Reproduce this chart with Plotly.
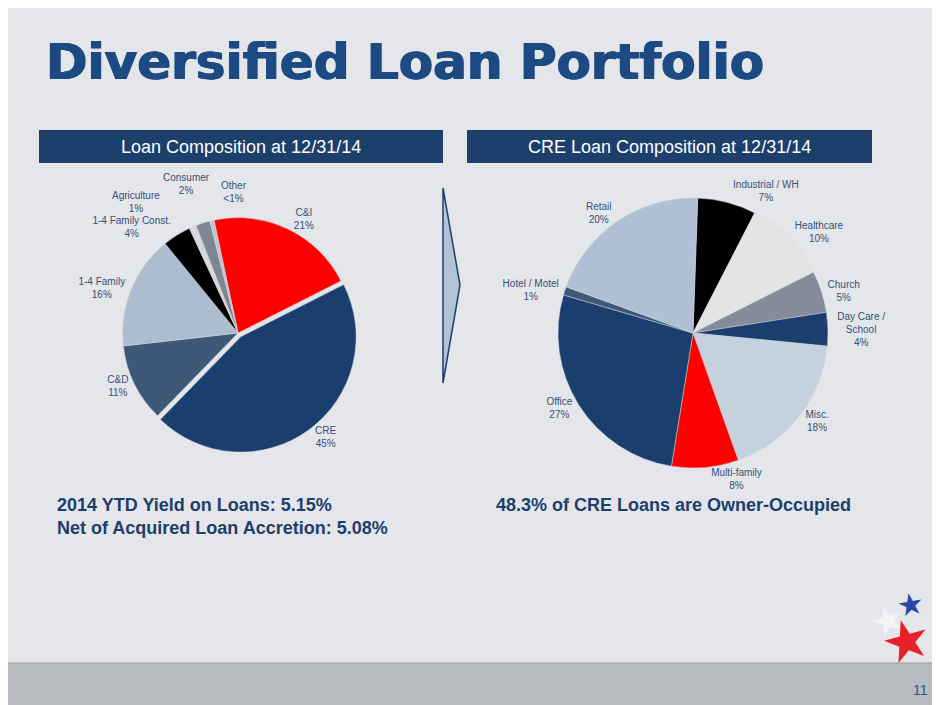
import plotly.graph_objects as go

# Loan Composition at 12/31/14
loan_labels = ['C&I', 'CRE', 'C&D', '1-4 Family', '1-4 Family Const.', 'Agriculture', 'Consumer', 'Other']
loan_values = [21, 45, 11, 16, 4, 1, 2, 0.6]
loan_pct = ['21%', '45%', '11%', '16%', '4%', '1%', '2%', '<1%']
loan_colors = ['#ff0000', '#1a3e6e', '#3e5878', '#adbdd0', '#000000', '#d8d8d8', '#7e8696', '#c4c4c4']
# the three thin slices get their labels as annotations so they do not pile up
loan_small = ['Agriculture', 'Consumer', 'Other']

# CRE Loan Composition at 12/31/14
cre_labels = ['Industrial / WH', 'Healthcare', 'Church', 'Day Care /<br>School', 'Misc.',
              'Multi-family', 'Office', 'Hotel / Motel', 'Retail']
cre_values = [7, 10, 5, 4, 18, 8, 27, 1, 20]
cre_pct = ['7%', '10%', '5%', '4%', '18%', '8%', '27%', '1%', '20%']
cre_colors = ['#000000', '#e4e4e4', '#858b98', '#1a3e6e', '#c6d1de',
              '#ff0000', '#1a3e6e', '#3e5878', '#afc0d4']

W, H = 940, 705
NAVY = '#1c3f6b'
LABEL = '#34507a'
LBL_FONT = dict(family='Liberation Sans, Arial', size=10, color=LABEL)


def px(x):
    return x / W


def py(y):
    return 1 - y / H


fig = go.Figure()

fig.add_trace(go.Pie(
    labels=loan_labels, values=loan_values,
    text=[f'{l}<br>{p}' for l, p in zip(loan_labels, loan_pct)],
    textinfo='text',
    textposition=['none' if l in loan_small else 'outside' for l in loan_labels],
    sort=False, direction='clockwise', rotation=-12,
    pull=[0, 0.04, 0, 0, 0, 0, 0, 0],
    marker=dict(colors=loan_colors, line=dict(color='#d0d5dc', width=0.5)),
    textfont=LBL_FONT,
    domain=dict(x=[px(40), px(420)], y=[py(445), py(205)]),
    showlegend=False, hoverinfo='label+percent',
))

fig.add_trace(go.Pie(
    labels=cre_labels, values=cre_values,
    text=[f'{l}<br>{p}' for l, p in zip(cre_labels, cre_pct)],
    textinfo='text', textposition='outside',
    sort=False, direction='clockwise', rotation=2,
    marker=dict(colors=cre_colors, line=dict(color='#d0d5dc', width=0.5)),
    textfont=LBL_FONT,
    domain=dict(x=[px(485), px(885)], y=[py(460), py(190)]),
    showlegend=False, hoverinfo='label+percent',
))

shapes = [
    # header boxes
    dict(type='rect', xref='paper', yref='paper', x0=px(31), x1=px(435), y0=py(155), y1=py(122),
         fillcolor=NAVY, line=dict(width=0)),
    dict(type='rect', xref='paper', yref='paper', x0=px(459), x1=px(864), y0=py(155), y1=py(122),
         fillcolor=NAVY, line=dict(width=0)),
    # chevron between charts
    dict(type='path', xref='paper', yref='paper',
         path=f'M {px(435)},{py(180)} L {px(452)},{py(277)} L {px(435)},{py(375)} Z',
         fillcolor='#b3c3d6', line=dict(color=NAVY, width=1.5)),
    # bottom band
    dict(type='rect', xref='paper', yref='paper', x0=0, x1=1, y0=0, y1=py(655),
         fillcolor='#b8bbbf', line=dict(width=0)),
    dict(type='line', xref='paper', yref='paper', x0=0, x1=1, y0=py(655), y1=py(655),
         line=dict(color='#9a9ea3', width=1)),
]

thick = '0.8px 0 0 #1d4a82, -0.8px 0 0 #1d4a82'

annotations = [
    dict(text='<b>Diversified Loan Portfolio</b>', x=px(36), y=py(54), xanchor='left', yanchor='middle',
         font=dict(family='DejaVu Sans, Liberation Sans', size=50, color='#1d4a82', shadow=thick),
         showarrow=False),
    dict(text='Loan Composition at 12/31/14', x=px(233), y=py(139), xanchor='center', yanchor='middle',
         font=dict(family='Liberation Sans, Arial', size=18, color='white'), showarrow=False),
    dict(text='CRE Loan Composition at 12/31/14', x=px(661), y=py(139), xanchor='center', yanchor='middle',
         font=dict(family='Liberation Sans, Arial', size=18, color='white'), showarrow=False),
    dict(text='<b>2014 YTD Yield on Loans: 5.15%<br>Net of Acquired Loan Accretion: 5.08%</b>',
         x=px(47), y=py(508), xanchor='left', yanchor='middle', align='left',
         font=dict(family='Liberation Sans, Arial', size=18, color=NAVY), showarrow=False),
    dict(text='<b>48.3% of CRE Loans are Owner-Occupied</b>',
         x=px(486), y=py(497), xanchor='left', yanchor='middle',
         font=dict(family='Liberation Sans, Arial', size=18, color=NAVY), showarrow=False),
    dict(text='11', x=px(912), y=py(682), xanchor='center', yanchor='middle',
         font=dict(family='Liberation Sans, Arial', size=14, color='#2a58a0'), showarrow=False),
    # star logo
    dict(text='★', x=px(880), y=py(612), xanchor='center', yanchor='middle', textangle=-20,
         font=dict(family='DejaVu Sans', size=40, color='#f2f3f5'), showarrow=False),
    dict(text='★', x=px(902), y=py(596), xanchor='center', yanchor='middle', textangle=-10,
         font=dict(family='DejaVu Sans', size=30, color='#2a4aa8'), showarrow=False),
    dict(text='★', x=px(898), y=py(632), xanchor='center', yanchor='middle', textangle=-15,
         font=dict(family='DejaVu Sans', size=56, color='#e8202a'), showarrow=False),
]

# labels of the thin slices, spread out above the left pie
small_pos = {'Agriculture': (128, 194), 'Consumer': (178, 176), 'Other': (226, 184)}
for l, p in zip(loan_labels, loan_pct):
    if l in small_pos:
        x, y = small_pos[l]
        annotations.append(dict(text=f'{l}<br>{p}', x=px(x), y=py(y), xanchor='center', yanchor='middle',
                                font=LBL_FONT, showarrow=False))

fig.update_layout(
    width=W, height=H,
    margin=dict(l=0, r=0, t=0, b=0, pad=0, autoexpand=False),
    paper_bgcolor='#e4e6e9',
    plot_bgcolor='#e4e6e9',
    shapes=shapes,
    annotations=annotations,
)

fig.write_html('out.html')
